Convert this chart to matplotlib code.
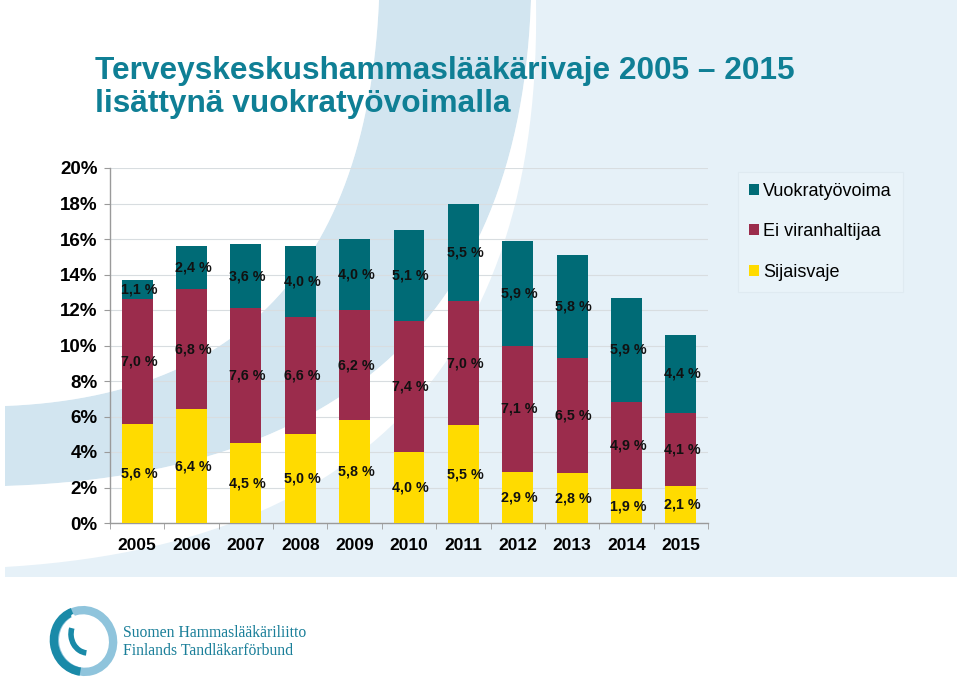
import matplotlib
matplotlib.use("Agg")
import matplotlib.pyplot as plt
import numpy as np
from matplotlib.path import Path
from matplotlib.patches import PathPatch, Ellipse, Arc, Circle
import matplotlib.transforms as mtransforms

# ---- data ----
years = ["2005", "2006", "2007", "2008", "2009", "2010", "2011", "2012", "2013", "2014", "2015"]
sijaisvaje = [5.6, 6.4, 4.5, 5.0, 5.8, 4.0, 5.5, 2.9, 2.8, 1.9, 2.1]
ei_viranhaltijaa = [7.0, 6.8, 7.6, 6.6, 6.2, 7.4, 7.0, 7.1, 6.5, 4.9, 4.1]
vuokratyovoima = [1.1, 2.4, 3.6, 4.0, 4.0, 5.1, 5.5, 5.9, 5.8, 5.9, 4.4]
series_names = ["Sijaisvaje", "Ei viranhaltijaa", "Vuokratyövoima"]
y_ticks = [0, 2, 4, 6, 8, 10, 12, 14, 16, 18, 20]
title_lines = ["Terveyskeskushammaslääkärivaje 2005 \u2013 2015", "lisättynä vuokratyövoimalla"]
logo_lines = ["Suomen Hammaslääkäriliitto", "Finlands Tandläkarförbund"]

colors = ["#ffdb00", "#9b2c4c", "#006b76"]

W, H = 960, 681
fig = plt.figure(figsize=(W / 100, H / 100), dpi=100)
fig.patch.set_facecolor("white")

# pixel transform (origin top-left)
px = mtransforms.Affine2D().scale(1 / W, -1 / H).translate(0, 1) + fig.transFigure

def bez(p0, p1, p2, n=60):
    t = np.linspace(0, 1, n)[:, None]
    p0, p1, p2 = map(np.array, (p0, p1, p2))
    return (1 - t) ** 2 * p0 + 2 * (1 - t) * t * p1 + t ** 2 * p2

def add_poly(pts, color, z=-10):
    path = Path(np.asarray(pts))
    fig.patches.append(PathPatch(path, facecolor=color, edgecolor="none",
                                 transform=px, zorder=z, figure=fig))

# background panel
add_poly([(5, 0), (957, 0), (957, 577), (5, 577)], "#e6f1f8", -20)
# dark swoosh band between arc A and arc B
arcA = bez((379, 0), (362, 392), (5, 406))
arcB = bez((531, 0), (515, 470), (5, 486))
add_poly(np.vstack([arcA, arcB[::-1]]), "#d2e5f0", -19)
# white stripe between arc B and arc C
arcC = bez((536, 0), (545, 535), (5, 567))
add_poly(np.vstack([arcB, arcC[::-1]]), "white", -19)
# white top-left region
add_poly(np.vstack([[(0, 0)], arcA, [(0, 406)]]), "white", -19)

# ---- axes ----
ax = fig.add_axes([110 / W, 1 - 523 / H, 598 / W, 355 / H])
ax.set_facecolor("none")
x = np.arange(len(years))
bottoms = np.zeros(len(years))
series = [sijaisvaje, ei_viranhaltijaa, vuokratyovoima]
bars = []
for vals, c, name in zip(series, colors, series_names):
    v = np.array(vals)
    b = ax.bar(x, v, 0.57, bottom=bottoms, color=c, label=name, zorder=3)
    bars.append(b)
    for xi, bi, vi in zip(x, bottoms, v):
        ax.text(xi + 0.03, bi + vi / 2, f"{vi:.1f} %".replace(".", ","),
                ha="center", va="center", fontsize=10.3, fontweight="bold",
                family="Liberation Sans", color="#111111", zorder=4)
    bottoms = bottoms + v

ax.set_xlim(-0.5, len(years) - 0.5)
ax.set_ylim(0, 20)
ax.set_yticks(y_ticks)
ax.set_yticklabels([f"{t}%" for t in y_ticks], fontsize=13.5, fontweight="bold",
                   family="Liberation Sans")
ax.set_xticks(x)
ax.set_xticklabels(years, fontsize=12.5, fontweight="bold", family="Liberation Sans")
ax.set_xticks(np.arange(-0.5, len(years), 1), minor=True)
ax.tick_params(axis="x", which="major", length=0, pad=11)
ax.tick_params(axis="x", which="minor", length=4, color="#9a9a9a", direction="out")
ax.tick_params(axis="y", length=4.5, color="#9a9a9a", pad=4.5)
ax.yaxis.grid(True, color="#d8dde0", linewidth=0.8, zorder=0)
ax.set_axisbelow(True)
for s in ["top", "right"]:
    ax.spines[s].set_visible(False)
for s in ["left", "bottom"]:
    ax.spines[s].set_color("#9a9a9a")
    ax.spines[s].set_linewidth(1.0)

handles = [bars[2], bars[1], bars[0]]
labels = [series_names[2], series_names[1], series_names[0]]
leg = ax.legend(handles, labels, loc="upper left",
                bbox_to_anchor=(738 / W, 1 - 172 / H), bbox_transform=fig.transFigure,
                handlelength=0.55, handleheight=0.55, handletextpad=0.25,
                labelspacing=1.3, borderpad=0.6, borderaxespad=0, fancybox=False,
                frameon=True, prop={"family": "Liberation Sans", "size": 13})
leg.get_frame().set_facecolor("#eaf4fa")
leg.get_frame().set_edgecolor("#dde9f0")
leg.get_frame().set_linewidth(0.8)

# ---- title ----
tfam = ["Liberation Sans Narrow", "Liberation Sans", "DejaVu Sans"]
fig.text(95 / W, 1 - 71 / H, title_lines[0], fontsize=22.8, fontweight="bold",
         color="#0f7f95", family=tfam, va="center", ha="left")
fig.text(95 / W, 1 - 104 / H, title_lines[1], fontsize=22.8, fontweight="bold",
         color="#0f7f95", family=tfam, va="center", ha="left")

# ---- logo ----
logo_ax = fig.add_axes([45 / W, 1 - 678 / H, 80 / W, 80 / H])
logo_ax.set_xlim(45, 125)
logo_ax.set_ylim(678, 598)
logo_ax.set_aspect("equal")
logo_ax.axis("off")
logo_ax.add_patch(Ellipse((84, 641), 58, 62, angle=-15, facecolor="none",
                          edgecolor="#8fc4dc", linewidth=6))
logo_ax.add_patch(Arc((83, 641), 58, 62, angle=-15, theta1=110, theta2=265,
                      edgecolor="#1a8aa8", linewidth=6))
logo_ax.add_patch(Arc((88, 634), 34, 38, angle=0, theta1=95, theta2=200,
                      edgecolor="#1a8aa8", linewidth=4))
logo_ax.add_patch(Circle((73, 616), 1.8, facecolor="white", edgecolor="none", zorder=5))

fig.text(123 / W, 1 - 633 / H, logo_lines[0], fontsize=11.3, color="#1a7f99",
         family="Liberation Serif", va="center", ha="left")
fig.text(123 / W, 1 - 651 / H, logo_lines[1], fontsize=11.3, color="#1a7f99",
         family="Liberation Serif", va="center", ha="left")

fig.savefig("out.png", dpi=100, facecolor="white")
